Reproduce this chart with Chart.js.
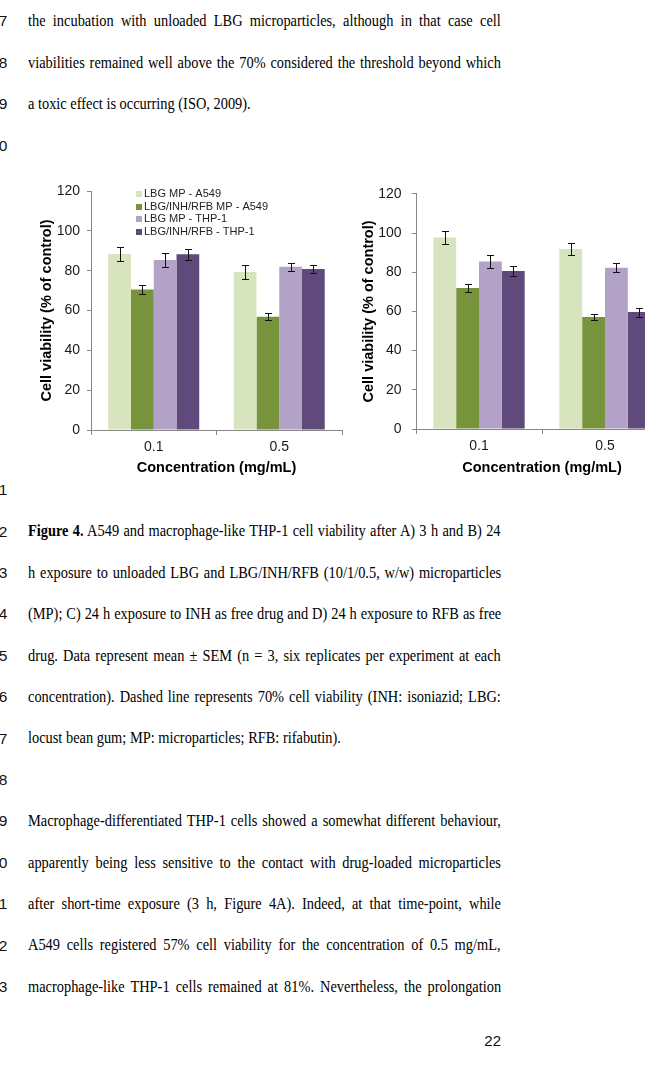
<!DOCTYPE html>
<html>
<head>
<meta charset="utf-8">
<script src="https://cdn.jsdelivr.net/npm/chart.js@4.4.0/dist/chart.umd.min.js"></script>
<style>
  html, body { margin: 0; padding: 0; background: #fff; }
  body { width: 645px; height: 1067px; overflow: hidden; position: relative; }
  .ln { position: absolute; left: -40px; width: 47.5px; text-align: right;
        font-family: "Liberation Sans", Arial, sans-serif; font-size: 15.5px;
        line-height: 20px; color: #111; white-space: nowrap; }
  .tx { position: absolute; left: 28px; font-family: "Liberation Serif", "Times New Roman", serif;
        font-size: 16.6px; line-height: 20px; color: #000; white-space: nowrap;
        transform-origin: 0 0; transform: scaleX(0.867); }
  .pg { position: absolute; left: 400px; width: 101px; text-align: right; top: 1031px;
        font-family: "Liberation Sans", Arial, sans-serif; font-size: 15px; line-height: 20px; color: #111; }
  canvas { position: absolute; }
  #chartA { left: 30px; top: 175px; }
  #chartB { left: 355px; top: 175px; }
</style>
</head>
<body>
<div id="page"></div>
<canvas id="chartA" width="315" height="310"></canvas>
<canvas id="chartB" width="316" height="310"></canvas>
<div class="pg">22</div>

<script>
// chart data
const categories = ['0.1', '0.5'];
const seriesNames = ['LBG MP - A549', 'LBG/INH/RFB MP - A549', 'LBG MP - THP-1', 'LBG/INH/RFB - THP-1'];
const seriesColors = ['#d7e4bd', '#77933c', '#b3a2c7', '#604a7b'];
const yTicks = [0, 20, 40, 60, 80, 100, 120];

// A) 3 h exposure
const lbgA549_3h     = [88.4, 79.3];
const loadedA549_3h  = [70.5, 56.8];
const lbgTHP_3h      = [85.3, 82.0];
const loadedTHP_3h   = [88.3, 80.8];
const semA549_3h     = [3.3, 3.3];
const semLoadedA549_3h = [2.2, 1.8];
const semTHP_3h      = [3.6, 2.0];
const semLoadedTHP_3h = [2.7, 2.0];

// B) 24 h exposure
const lbgA549_24h    = [97.8, 91.9];
const loadedA549_24h = [72.0, 57.2];
const lbgTHP_24h     = [85.5, 82.3];
const loadedTHP_24h  = [80.6, 59.7];
const semA549_24h    = [3.3, 3.2];
const semLoadedA549_24h = [2.1, 1.7];
const semTHP_24h     = [3.4, 2.2];
const semLoadedTHP_24h = [2.7, 2.3];

// page text
const lines = [
  {n: 17, t: 'the incubation with unloaded LBG microparticles, although in that case cell', j: true},
  {n: 18, t: 'viabilities remained well above the 70% considered the threshold beyond which', j: true},
  {n: 19, t: 'a toxic effect is occurring (ISO, 2009).'},
  {n: 20, t: ''},
  {n: 21, t: ''},
  {n: 22, t: '<b>Figure 4.</b> A549 and macrophage-like THP-1 cell viability after A) 3 h and B) 24', j: true},
  {n: 23, t: 'h exposure to unloaded LBG and LBG/INH/RFB (10/1/0.5, w/w) microparticles', j: true},
  {n: 24, t: '(MP); C) 24 h exposure to INH as free drug and D) 24 h exposure to RFB as free', j: true},
  {n: 25, t: 'drug. Data represent mean ± SEM (n = 3, six replicates per experiment at each', j: true},
  {n: 26, t: 'concentration). Dashed line represents 70% cell viability (INH: isoniazid; LBG:', j: true},
  {n: 27, t: 'locust bean gum; MP: microparticles; RFB: rifabutin).'},
  {n: 28, t: ''},
  {n: 29, t: 'Macrophage-differentiated THP-1 cells showed a somewhat different behaviour,', j: true},
  {n: 30, t: 'apparently being less sensitive to the contact with drug-loaded microparticles', j: true},
  {n: 31, t: 'after short-time exposure (3 h, Figure 4A). Indeed, at that time-point, while', j: true},
  {n: 32, t: 'A549 cells registered 57% cell viability for the concentration of 0.5 mg/mL,', j: true},
  {n: 33, t: 'macrophage-like THP-1 cells remained at 81%. Nevertheless, the prolongation', j: true}
];

const page = document.getElementById('page');
const textWidth = 473 / 0.867;
lines.forEach(function(l, i) {
  var base = i < 4 ? 26.7 + i * 41.4 : 495.6 + (i - 4) * 41.4;
  var num = document.createElement('div');
  num.className = 'ln';
  num.style.top = (base - 15.4) + 'px';
  num.textContent = l.n;
  page.appendChild(num);
  if (!l.t) return;
  var d = document.createElement('div');
  d.className = 'tx';
  d.style.top = (base - 15.6) + 'px';
  d.innerHTML = l.t;
  page.appendChild(d);
  if (l.j) {
    var w = d.offsetWidth;
    var spaces = (d.textContent.match(/ /g) || []).length;
    d.style.wordSpacing = ((textWidth - w) / spaces) + 'px';
  }
});

const axisGray = '#868686';
const sans = '"Liberation Sans", Arial, sans-serif';

const errorBars = {
  id: 'errorBars',
  afterDatasetsDraw(chart) {
    const ctx = chart.ctx, y = chart.scales.y;
    ctx.save();
    ctx.strokeStyle = '#111';
    ctx.lineWidth = 1;
    chart.data.datasets.forEach(function(ds, i) {
      chart.getDatasetMeta(i).data.forEach(function(bar, j) {
        var x = Math.round(bar.x) + 0.5;
        var top = Math.round(y.getPixelForValue(ds.data[j] + ds.err[j])) + 0.5;
        var bot = Math.round(y.getPixelForValue(ds.data[j] - ds.err[j])) + 0.5;
        ctx.beginPath();
        ctx.moveTo(x, top); ctx.lineTo(x, bot);
        ctx.moveTo(x - 3.5, top); ctx.lineTo(x + 3.5, top);
        ctx.moveTo(x - 3.5, bot); ctx.lineTo(x + 3.5, bot);
        ctx.stroke();
      });
    });
    ctx.restore();
  }
};

const innerLegend = {
  id: 'innerLegend',
  afterDraw(chart, args, opts) {
    if (!opts.show) return;
    const ctx = chart.ctx, area = chart.chartArea;
    ctx.save();
    ctx.font = '11px ' + sans;
    ctx.textBaseline = 'middle';
    chart.data.datasets.forEach(function(ds, i) {
      var cy = area.top + opts.top + i * opts.step;
      ctx.fillStyle = ds.backgroundColor;
      ctx.fillRect(area.left + opts.left, Math.round(cy) - 3, 6, 6);
      ctx.fillStyle = '#222';
      ctx.fillText(ds.label, area.left + opts.left + 8, cy);
    });
    ctx.restore();
  }
};

function makeChart(id, values, errors, o) {
  return new Chart(document.getElementById(id), {
    type: 'bar',
    data: {
      labels: categories,
      datasets: values.map(function(v, i) {
        return {
          label: seriesNames[i],
          data: v,
          err: errors[i],
          backgroundColor: seriesColors[i],
          borderWidth: 0,
          categoryPercentage: 0.725,
          barPercentage: 1
        };
      })
    },
    options: {
      responsive: false,
      animation: false,
      layout: { padding: { top: o.padTop, right: 3, left: 0, bottom: 0 } },
      plugins: {
        legend: { display: false },
        tooltip: { enabled: false },
        innerLegend: { show: o.legend, left: 45, top: 3, step: 12.5 }
      },
      scales: {
        x: {
          grid: { display: true, drawOnChartArea: false, drawTicks: true, tickLength: 5, color: axisGray, offset: true },
          border: { display: true, color: axisGray, width: 1 },
          ticks: { color: '#1a1a1a', font: { family: sans, size: 14 }, padding: 4 },
          title: { display: true, text: 'Concentration (mg/mL)', color: '#000',
                   font: { family: sans, size: 14.5, weight: 'bold' }, padding: { top: 0, bottom: 8.3 } },
          afterFit: function(s) { s.height = o.xHeight; }
        },
        y: {
          min: 0,
          max: 120,
          afterBuildTicks: function(s) { s.ticks = yTicks.map(function(v) { return { value: v }; }); },
          grid: { display: true, drawOnChartArea: false, drawTicks: true, tickLength: 4, color: axisGray },
          border: { display: true, color: axisGray, width: 1 },
          ticks: { color: '#1a1a1a', font: { family: sans, size: 14 }, padding: o.tickPad },
          title: { display: true, text: 'Cell viability (% of control)', color: '#000',
                   font: { family: sans, size: 14.5, weight: 'bold' }, padding: { top: o.titlePad, bottom: 0 } },
          afterFit: function(s) { s.width = 61; }
        }
      }
    },
    plugins: [errorBars, innerLegend]
  });
}

makeChart('chartA',
  [lbgA549_3h, loadedA549_3h, lbgTHP_3h, loadedTHP_3h],
  [semA549_3h, semLoadedA549_3h, semTHP_3h, semLoadedTHP_3h],
  { padTop: 16, xHeight: 55, tickPad: 7, titlePad: 8.3, legend: true });

makeChart('chartB',
  [lbgA549_24h, loadedA549_24h, lbgTHP_24h, loadedTHP_24h],
  [semA549_24h, semLoadedA549_24h, semTHP_24h, semLoadedTHP_24h],
  { padTop: 15, xHeight: 56, tickPad: 10.5, titlePad: 5.6, legend: false });
</script>
</body>
</html>
